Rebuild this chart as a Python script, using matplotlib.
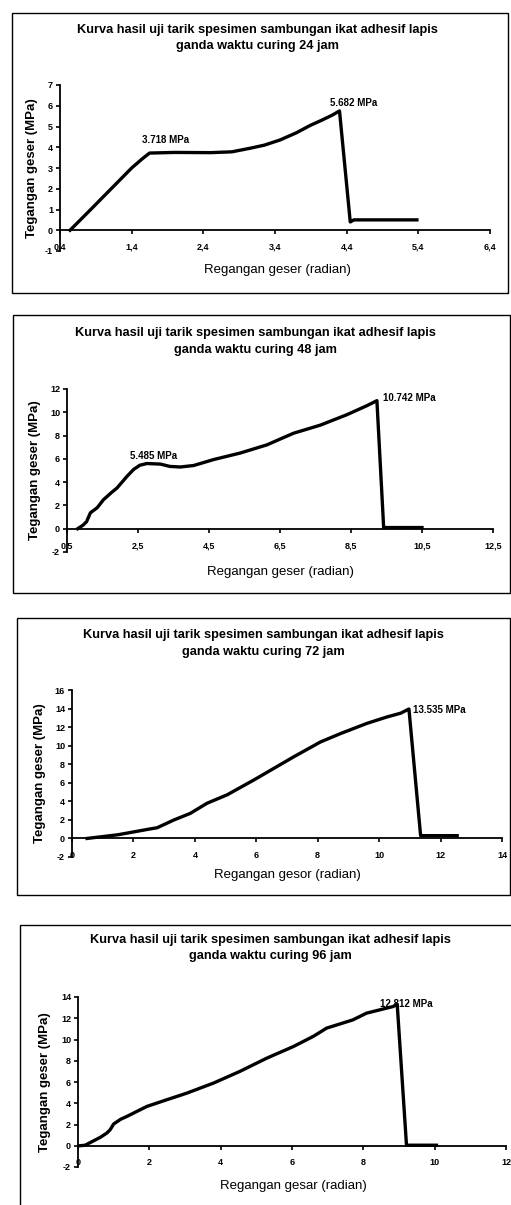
import matplotlib
matplotlib.use("Agg")
import matplotlib.pyplot as plt
from matplotlib.patches import Rectangle

plt.rcParams["font.family"] = ["Liberation Sans", "DejaVu Sans"]

W, H = 511, 1205

# curing 24 jam
x24 = [0.54, 0.8, 1.0, 1.2, 1.4, 1.55, 1.65, 2.0, 2.5, 2.8, 3.05, 3.25, 3.47, 3.7, 3.89, 4.05, 4.2, 4.3,
       4.45, 4.5, 5.0, 5.38]
y24 = [0.0, 0.9, 1.6, 2.3, 3.0, 3.45, 3.72, 3.75, 3.74, 3.78, 3.95, 4.1, 4.35, 4.7, 5.05, 5.3, 5.55, 5.75,
       0.4, 0.5, 0.5, 0.5]

# curing 48 jam
x48 = [0.8, 0.95, 1.05, 1.16, 1.35, 1.53, 1.75, 1.91, 2.05, 2.19, 2.38, 2.55, 2.75, 3.13, 3.4, 3.69, 4.07,
       4.63, 5.38, 6.13, 6.88, 7.64, 8.39, 8.95, 9.23, 9.42, 10.5]
y48 = [0.0, 0.3, 0.6, 1.37, 1.8, 2.5, 3.1, 3.5, 4.0, 4.5, 5.1, 5.45, 5.6, 5.55, 5.35, 5.3, 5.43,
       5.94, 6.5, 7.2, 8.2, 8.9, 9.8, 10.57, 11.0, 0.1, 0.1]

# curing 72 jam
x72 = [0.49, 1.0, 1.5, 2.0, 2.5, 2.77, 3.31, 3.85, 4.4, 5.05, 5.92, 6.57, 7.22, 8.09, 8.74, 9.6, 10.26,
       10.7, 10.97, 11.35, 12.54]
y72 = [0.0, 0.2, 0.4, 0.7, 1.0, 1.15, 1.98, 2.7, 3.8, 4.7, 6.3, 7.55, 8.8, 10.4, 11.3, 12.4, 13.1,
       13.5, 13.95, 0.3, 0.3]

# curing 96 jam
x96 = [0.05, 0.2, 0.4, 0.63, 0.81, 0.9, 1.0, 1.2, 1.37, 1.93, 2.49, 3.05, 3.8, 4.54, 5.29, 6.04, 6.6,
       6.97, 7.71, 8.09, 8.83, 8.95, 9.21, 10.05]
y96 = [0.0, 0.05, 0.4, 0.8, 1.2, 1.5, 2.05, 2.5, 2.76, 3.7, 4.33, 4.95, 5.9, 7.0, 8.24, 9.34, 10.3,
       11.07, 11.85, 12.48, 13.1, 13.3, 0.05, 0.05]

jam = ["24", "48", "72", "96"]
xs = [x24, x48, x72, x96]
ys = [y24, y48, y72, y96]
xticks = [[0.4, 1.4, 2.4, 3.4, 4.4, 5.4, 6.4],
          [0.5, 2.5, 4.5, 6.5, 8.5, 10.5, 12.5],
          [0, 2, 4, 6, 8, 10, 12, 14],
          [0, 2, 4, 6, 8, 10, 12]]
yticks = [[-1, 0, 1, 2, 3, 4, 5, 6, 7],
          [-2, 0, 2, 4, 6, 8, 10, 12],
          [-2, 0, 2, 4, 6, 8, 10, 12, 14, 16],
          [-2, 0, 2, 4, 6, 8, 10, 12, 14]]
xlabels = ["Regangan geser (radian)", "Regangan geser (radian)",
           "Regangan gesor (radian)", "Regangan gesar (radian)"]
# peak labels: (text, x, y)
notes = [[("3.718 MPa", 1.54, 4.35), ("5.682 MPa", 4.17, 6.13)],
         [("5.485 MPa", 2.27, 6.26), ("10.742 MPa", 9.4, 11.2)],
         [("13.535 MPa", 11.1, 13.8)],
         [("12.812 MPa", 8.46, 13.3)]]

# layout in pixels: box, axes (left, right, top, bottom), title y, xlabel y, ylabel x
boxes = [(12, 13, 508, 293), (13, 315, 510, 593), (17, 618, 510, 895), (20, 925, 520, 1210)]
axbox = [(60, 490, 85, 251), (67, 493, 389, 552), (72, 502, 690, 857), (78, 506, 997, 1167)]
title_pos = [(257, 38), (255, 341.5), (263, 643.5), (270, 948)]
xlab_pos = [(277, 270), (280, 572), (287, 875), (293, 1186)]
ylab_x = [32, 35, 40, 45]

fig = plt.figure(figsize=(W / 100, H / 100), dpi=100)


def fx(p):
    return p / W


def fy(p):
    return 1 - p / H


for i in range(4):
    bx0, by0, bx1, by1 = boxes[i]
    fig.add_artist(Rectangle((fx(bx0), fy(by1)), fx(bx1 - bx0), (by1 - by0) / H,
                             transform=fig.transFigure, fill=False, lw=1.0, ec="black"))
    l, r, t, b = axbox[i]
    ax = fig.add_axes([fx(l), fy(b), fx(r - l), (b - t) / H])
    ax.plot(xs[i], ys[i], color="black", lw=2.4, solid_joinstyle="round")
    ax.set_xlim(xticks[i][0], xticks[i][-1])
    ax.set_ylim(yticks[i][0], yticks[i][-1])
    ax.spines["top"].set_visible(False)
    ax.spines["right"].set_visible(False)
    ax.spines["bottom"].set_position(("data", 0))
    ax.spines["left"].set_linewidth(1.3)
    ax.spines["bottom"].set_linewidth(1.3)
    ax.set_xticks(xticks[i])
    ax.set_xticklabels([str(v).replace(".", ",") for v in xticks[i]],
                       fontsize=6.5, fontweight="bold")
    ax.set_yticks(yticks[i])
    ax.set_yticklabels([str(v) for v in yticks[i]], fontsize=6.5, fontweight="bold")
    ax.tick_params(axis="both", direction="out", length=3, width=1.2, pad=2)
    ax.tick_params(axis="x", pad=6)
    ax.patch.set_alpha(0)
    for txt, tx, ty in notes[i]:
        ax.text(tx, ty, txt, fontsize=7, fontweight="bold", va="center")

    cx, cy = title_pos[i]
    fig.text(fx(cx), fy(cy),
             "Kurva hasil uji tarik spesimen sambungan ikat adhesif lapis\n"
             "ganda waktu curing " + jam[i] + " jam",
             ha="center", va="center", fontsize=9.2, fontweight="bold", linespacing=1.45)
    lx, ly = xlab_pos[i]
    fig.text(fx(lx), fy(ly), xlabels[i], ha="center", va="center", fontsize=9.5)
    fig.text(fx(ylab_x[i]), fy((t + b) / 2), "Tegangan geser (MPa)", rotation=90,
             ha="center", va="center", fontsize=9.5, fontweight="bold")

fig.savefig("out.png", dpi=100)
